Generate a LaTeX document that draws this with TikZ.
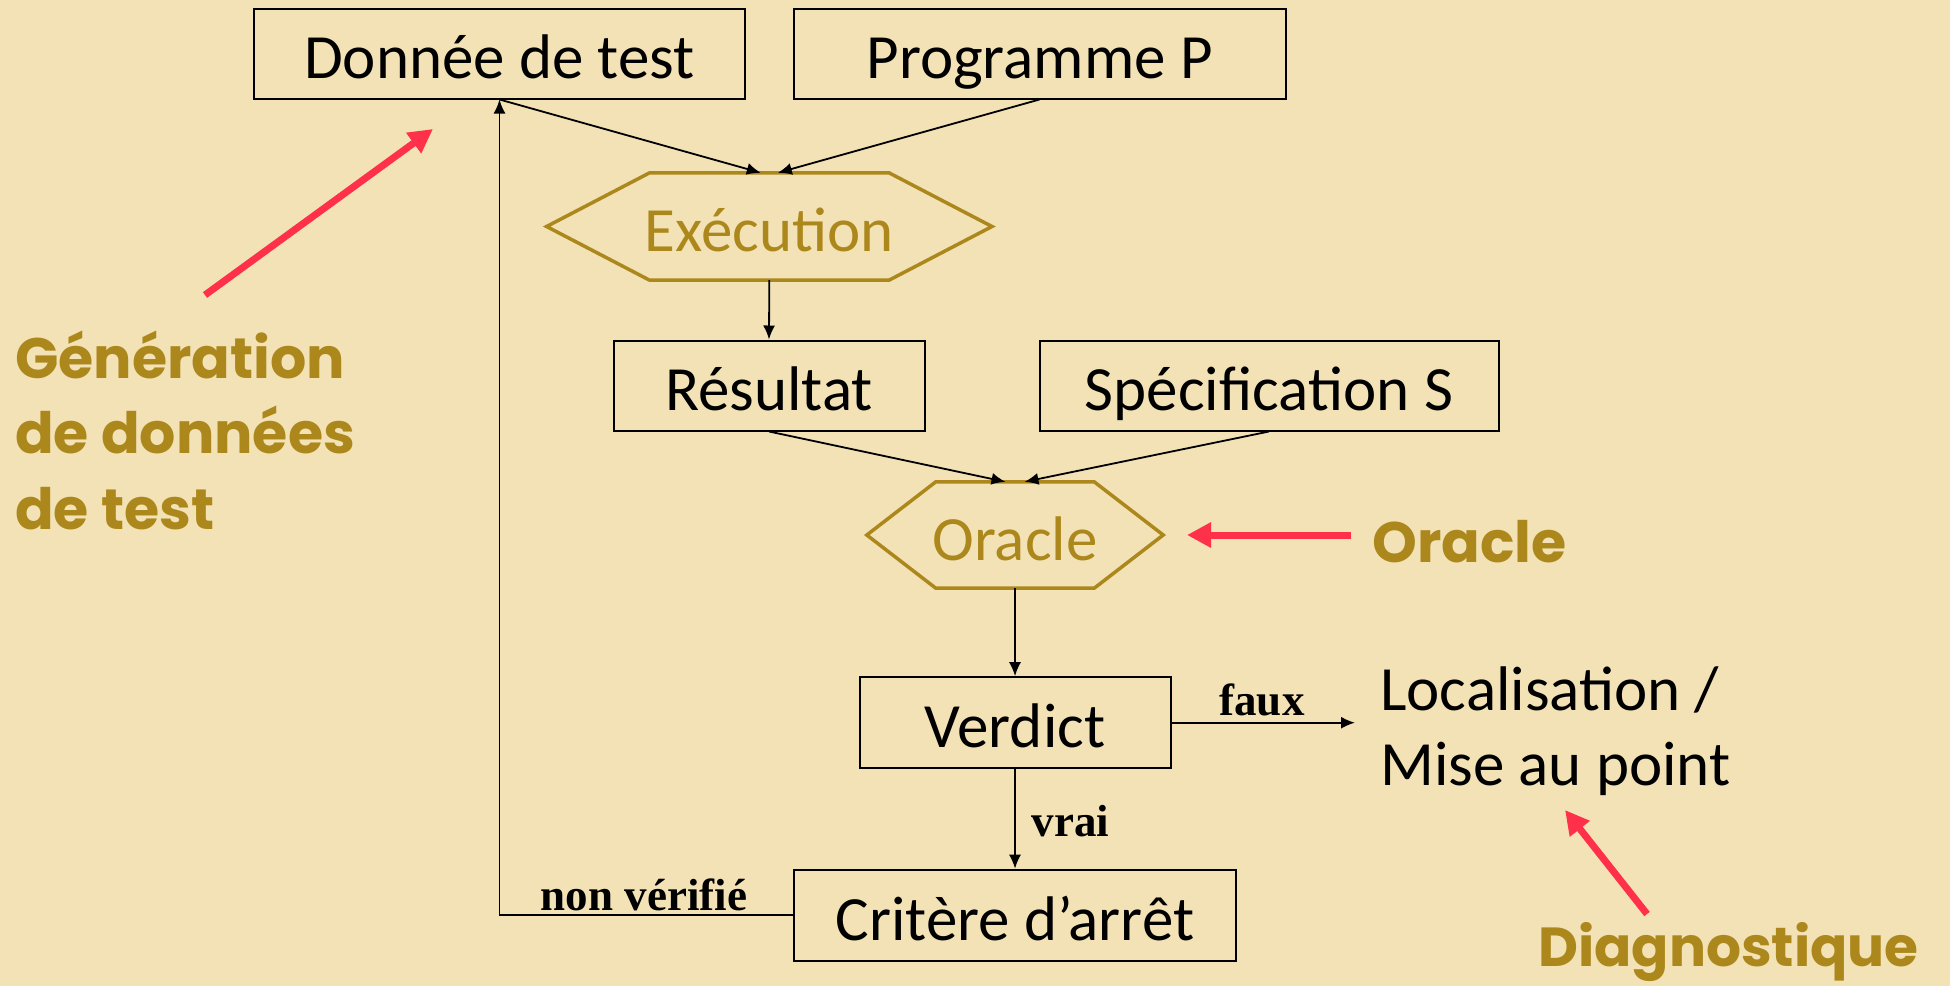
\documentclass[tikz,border=0pt]{standalone}
\usepackage{fontspec}
\setmainfont{Carlito}
\newfontfamily\serifbold{Liberation Serif}
\newfontfamily\headfont{Poppins}
\usetikzlibrary{arrows.meta,calc}
\definecolor{paper}{RGB}{242,226,182}
\definecolor{gold}{RGB}{172,136,28}
\definecolor{pointer}{RGB}{255,48,73}

\begin{document}
\begin{tikzpicture}[x=1pt,y=-1pt,
  box/.style={draw=black, line width=2pt, inner sep=0pt, text height=50pt, text depth=0pt,
    font=\fontsize{63}{75}\selectfont},
  hexbox/.style={inner sep=0pt, text height=50pt, text depth=0pt, text=gold,
    font=\fontsize{63}{75}\selectfont},
  hexline/.style={draw=gold, line width=3.5pt, line join=miter},
  flow/.style={draw=black, line width=1.8pt, -{Latex[length=14pt,width=12pt]}},
  cond/.style={font=\serifbold\bfseries\fontsize{45}{54}\selectfont, inner sep=0pt, anchor=base},
  free/.style={font=\fontsize{63}{75}\selectfont, inner sep=0pt, anchor=base west},
  callout/.style={font=\headfont\bfseries\fontsize{57}{76}\selectfont, text=gold,
    inner sep=0pt, anchor=base west},
  pointer/.style={draw=pointer, line width=7pt, -{Triangle[length=24pt,width=24pt]}}
]
% page
\fill[paper] (0,0) rectangle (1950,986);
\useasboundingbox (0,0) rectangle (1950,986);

% boxes of the test loop
\node[box, minimum width=491pt, minimum height=90pt] (don) at (499.5,53.5) {Donnée de test};
\node[box, minimum width=492pt, minimum height=90pt] (prog) at (1039.5,53.5) {Programme P};
\node[hexbox, minimum width=445pt, minimum height=107pt] (exec) at (769.3,226.5) {Exécution};
\node[box, minimum width=311pt, minimum height=90pt] (res) at (769,385.5) {Résultat};
\node[box, minimum width=459pt, minimum height=90pt] (spec) at (1269,385.5) {Spécification S};
\node[hexbox, minimum width=296pt, minimum height=106pt] (orc) at (1015,535) {Oracle};
\node[box, minimum width=311pt, minimum height=91pt] (verd) at (1015,722.7) {Verdict};
\node[box, minimum width=442pt, minimum height=91pt] (crit) at (1015,915.2) {Critère d’arrêt};

% hexagonal outlines
\draw[hexline] (exec.west) -- ([xshift=103pt]exec.north west) -- ([xshift=-103pt]exec.north east)
  -- (exec.east) -- ([xshift=-103pt]exec.south east) -- ([xshift=103pt]exec.south west) -- cycle;
\draw[hexline] (orc.west) -- ([xshift=69pt]orc.north west) -- ([xshift=-69pt]orc.north east)
  -- (orc.east) -- ([xshift=-69pt]orc.south east) -- ([xshift=69pt]orc.south west) -- cycle;

% connectors
\draw[flow] (don.south) -- ([xshift=-8.5pt]exec.north);
\draw[flow] (prog.south) -- ([xshift=8.5pt]exec.north);
\draw[flow] (exec.south) -- (res.north);
\draw[flow] (res.south) -- ([xshift=-9.5pt]orc.north);
\draw[flow] (spec.south) -- ([xshift=9.5pt]orc.north);
\draw[flow] (orc.south) -- (verd.north);
\draw[flow] (verd.south) -- (crit.north);
\coordinate (locin) at (1355,722.7);
\draw[flow] (verd.east) -- (locin);
\draw[flow] (crit.west) -| (don.south);

% branch labels
\node[cond] (faux) at (1262,715) {faux};
\node[cond] (vrai) at (1070.5,836.7) {vrai};
\node[cond] (nonv) at (644,910) {non vérifié};

% outcome of a failed verdict
\node[free] (loc1) at (1380,710) {Localisation /};
\node[free] (loc2) at (1380,785) {Mise au point};

% callouts
\node[callout] (gen1) at (15,378) {Génération};
\node[callout] (gen2) at (15,453) {de données};
\node[callout] (gen3) at (15,529) {de test};
\node[callout] (orcl) at (1372,562) {Oracle};
\node[callout, font=\headfont\bfseries\fontsize{55}{66}\selectfont] (diag) at (1538,966) {Diagnostique};

% red pointers
\coordinate (g0) at (205,295);  \coordinate (g1) at (433,129);
\coordinate (o0) at (1351,535); \coordinate (o1) at (1187,535);
\coordinate (d0) at (1647,914); \coordinate (d1) at (1565,810);
\draw[pointer] (g0) -- (g1);
\draw[pointer] (o0) -- (o1);
\draw[pointer] (d0) -- (d1);
\end{tikzpicture}
\end{document}
